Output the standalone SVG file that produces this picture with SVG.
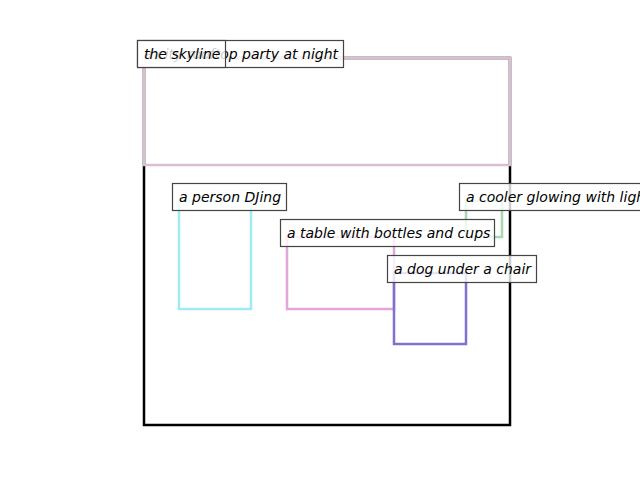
<svg xmlns="http://www.w3.org/2000/svg" width="640" height="480" viewBox="0 0 640 480">
<style>
.box{fill:none;stroke-width:2.5}
.lbl rect{fill:#fff;fill-opacity:0.8;stroke:#444;stroke-width:1.2}
.lbl text{font-family:"DejaVu Sans",sans-serif;font-style:italic;font-size:14px;fill:#000}
</style>
<rect width="640" height="480" fill="#fff"/>
<g id="nodes">
<g id="rooftop"><rect class="box" x="144" y="58" width="366" height="367" stroke="#000"/></g>
<g id="skyline"><rect class="box" x="144" y="58" width="366" height="107" stroke="#d8bfd3"/></g>
<g id="person"><rect class="box" x="179" y="201" width="72" height="108" stroke="#a0e9f5"/></g>
<g id="table"><rect class="box" x="287" y="237" width="107" height="72" stroke="#e3a5dc"/></g>
<g id="cooler"><rect class="box" x="466" y="201" width="36" height="36" stroke="#a8d8b2"/></g>
<g id="dog"><rect class="box" x="394" y="273" width="72" height="71" stroke="#7e72cc"/></g>
</g>
<g id="labels">
<g id="label-rooftop" class="lbl"><rect x="137.5" y="40.5" width="206" height="27"/><text x="144" y="59">a city rooftop party at night</text></g>
<g id="label-skyline" class="lbl"><rect x="137.5" y="40.5" width="88" height="27"/><text x="144" y="59">the skyline</text></g>
<g id="label-person" class="lbl"><rect x="172.5" y="183.5" width="114" height="27"/><text x="179" y="202">a person DJing</text></g>
<g id="label-table" class="lbl"><rect x="280.5" y="219.5" width="214" height="27"/><text x="287" y="238">a table with bottles and cups</text></g>
<g id="label-cooler" class="lbl"><rect x="459.5" y="183.5" width="200" height="27"/><text x="466" y="202">a cooler glowing with light</text></g>
<g id="label-dog" class="lbl"><rect x="387.5" y="255.5" width="149" height="27"/><text x="394" y="274">a dog under a chair</text></g>
</g>
</svg>
